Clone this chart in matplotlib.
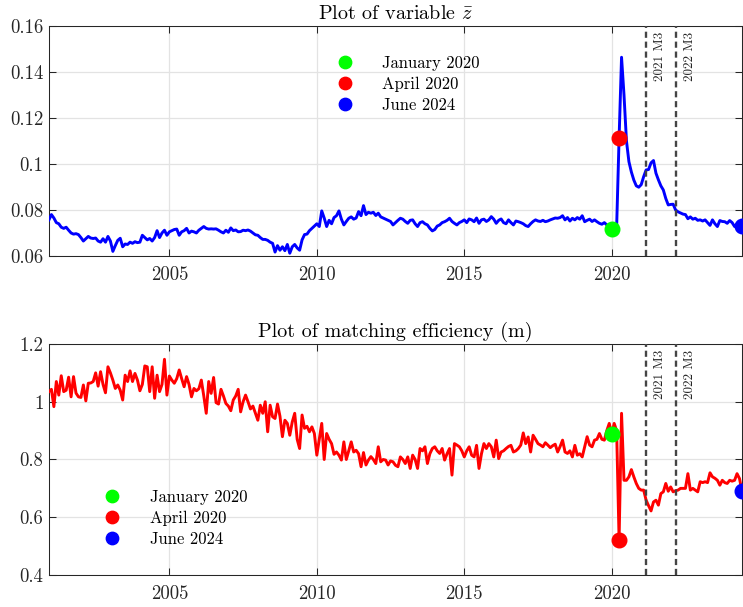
"""Two stacked time-series panels: z-bar and matching efficiency (m), monthly
Dec 2000 - Jun 2024, with the Jan 2020 / Apr 2020 / Jun 2024 points marked.
Writes out.png
"""
import matplotlib.pyplot as plt
import numpy as np
from matplotlib.ticker import FuncFormatter

plt.rcParams["font.family"] = ["cmr10", "DejaVu Serif"]
plt.rcParams["mathtext.fontset"] = "cm"
plt.rcParams["axes.formatter.use_mathtext"] = True


# first observation (year, month); one value per month after that
START = (2000, 12)

Z_BAR = [
    0.0757,
    0.0780, 0.0765, 0.0745, 0.0740, 0.0725, 0.0720, 0.0725, 0.0712, 0.0700, 0.0695, 0.0697, 0.0693,
    0.0680, 0.0665, 0.0675, 0.0685, 0.0678, 0.0676, 0.0678, 0.0665, 0.0660, 0.0675, 0.0660, 0.0685,
    0.0665, 0.0620, 0.0645, 0.0668, 0.0677, 0.0640, 0.0652, 0.0650, 0.0660, 0.0655, 0.0662, 0.0658,
    0.0660, 0.0690, 0.0680, 0.0670, 0.0676, 0.0665, 0.0680, 0.0710, 0.0680, 0.0700, 0.0712, 0.0690,
    0.0705, 0.0710, 0.0715, 0.0717, 0.0690, 0.0705, 0.0710, 0.0720, 0.0700, 0.0708, 0.0705, 0.0700,
    0.0712, 0.0720, 0.0728, 0.0720, 0.0717, 0.0718, 0.0717, 0.0718, 0.0712, 0.0705, 0.0700, 0.0712,
    0.0703, 0.0722, 0.0710, 0.0713, 0.0705, 0.0706, 0.0712, 0.0710, 0.0713, 0.0708, 0.0700, 0.0692,
    0.0690, 0.0680, 0.0672, 0.0672, 0.0668, 0.0660, 0.0655, 0.0617, 0.0645, 0.0625, 0.0640, 0.0623,
    0.0650, 0.0612, 0.0640, 0.0650, 0.0635, 0.0625, 0.0670, 0.0693, 0.0695, 0.0710, 0.0720, 0.0730,
    0.0740, 0.0728, 0.0796, 0.0765, 0.0728, 0.0755, 0.0740, 0.0767, 0.0775, 0.0796, 0.0760, 0.0735,
    0.0750, 0.0764, 0.0770, 0.0760, 0.0765, 0.0793, 0.0775, 0.0819, 0.0780, 0.0790, 0.0786, 0.0790,
    0.0776, 0.0786, 0.0770, 0.0765, 0.0760, 0.0755, 0.0750, 0.0735, 0.0745, 0.0755, 0.0764, 0.0760,
    0.0750, 0.0742, 0.0755, 0.0757, 0.0740, 0.0728, 0.0745, 0.0749, 0.0740, 0.0735, 0.0720, 0.0709,
    0.0715, 0.0730, 0.0735, 0.0745, 0.0749, 0.0755, 0.0764, 0.0750, 0.0742, 0.0735, 0.0745, 0.0750,
    0.0757, 0.0745, 0.0761, 0.0757, 0.0749, 0.0765, 0.0742, 0.0757, 0.0760, 0.0750, 0.0757, 0.0771,
    0.0760, 0.0742, 0.0755, 0.0761, 0.0745, 0.0740, 0.0757, 0.0745, 0.0735, 0.0752, 0.0749, 0.0745,
    0.0740, 0.0732, 0.0728, 0.0740, 0.0750, 0.0757, 0.0752, 0.0750, 0.0755, 0.0749, 0.0752, 0.0757,
    0.0761, 0.0765, 0.0764, 0.0767, 0.0775, 0.0757, 0.0767, 0.0752, 0.0764, 0.0757, 0.0767, 0.0760,
    0.0775, 0.0749, 0.0755, 0.0760, 0.0750, 0.0757, 0.0749, 0.0742, 0.0738, 0.0745, 0.0735, 0.0728,
    0.0719, 0.0722, 0.0725, 0.1112, 0.1464, 0.1300, 0.1100, 0.1010, 0.0965, 0.0930, 0.0905, 0.0899,
    0.0910, 0.0945, 0.0974, 0.0976, 0.1005, 0.1015, 0.0960, 0.0931, 0.0905, 0.0887, 0.0850, 0.0822,
    0.0824, 0.0825, 0.0800, 0.0792, 0.0787, 0.0782, 0.0780, 0.0762, 0.0770, 0.0760, 0.0764, 0.0755,
    0.0757, 0.0752, 0.0757, 0.0745, 0.0733, 0.0757, 0.0740, 0.0728, 0.0754, 0.0750, 0.0749, 0.0742,
    0.0754, 0.0745, 0.0728, 0.0740, 0.0745, 0.0730,
]

M_EFF = [
    1.035,
    1.043, 0.983, 1.070, 1.023, 1.090, 1.035, 1.040, 1.085, 1.017, 1.087, 1.030, 1.017,
    1.015, 1.058, 1.003, 1.064, 1.065, 1.070, 1.100, 1.054, 1.104, 1.060, 1.031, 1.121,
    1.100, 1.075, 1.046, 1.058, 1.040, 1.006, 1.092, 1.070, 1.107, 1.070, 1.098, 1.075,
    1.038, 1.060, 1.124, 1.121, 1.035, 1.121, 1.012, 1.092, 1.035, 1.060, 1.147, 1.023,
    1.089, 1.075, 1.064, 1.080, 1.110, 1.080, 1.052, 1.087, 1.060, 1.017, 1.046, 1.038,
    1.045, 1.075, 1.020, 0.960, 1.070, 1.029, 1.084, 0.997, 0.992, 1.043, 1.020, 0.994,
    0.985, 0.969, 1.006, 1.020, 1.043, 0.965, 1.000, 1.023, 1.000, 0.975, 0.985, 0.960,
    0.936, 0.988, 0.960, 1.000, 0.896, 0.988, 0.948, 0.942, 0.992, 0.950, 0.879, 0.936,
    0.925, 0.884, 0.930, 0.960, 0.870, 0.838, 0.954, 0.908, 0.915, 0.896, 0.913, 0.890,
    0.815, 0.870, 0.925, 0.800, 0.890, 0.870, 0.855, 0.818, 0.826, 0.815, 0.798, 0.861,
    0.800, 0.830, 0.861, 0.826, 0.832, 0.820, 0.775, 0.824, 0.781, 0.798, 0.810, 0.800,
    0.786, 0.844, 0.792, 0.800, 0.798, 0.781, 0.795, 0.792, 0.780, 0.775, 0.809, 0.800,
    0.786, 0.809, 0.769, 0.815, 0.800, 0.769, 0.838, 0.830, 0.844, 0.786, 0.820, 0.838,
    0.844, 0.830, 0.821, 0.838, 0.798, 0.820, 0.838, 0.746, 0.855, 0.850, 0.844, 0.830,
    0.809, 0.830, 0.844, 0.815, 0.809, 0.849, 0.769, 0.820, 0.855, 0.838, 0.855, 0.844,
    0.809, 0.867, 0.803, 0.826, 0.830, 0.838, 0.845, 0.849, 0.826, 0.830, 0.838, 0.850,
    0.892, 0.855, 0.878, 0.826, 0.884, 0.870, 0.855, 0.850, 0.844, 0.858, 0.850, 0.841,
    0.848, 0.853, 0.826, 0.845, 0.867, 0.826, 0.821, 0.830, 0.809, 0.849, 0.815, 0.820,
    0.809, 0.844, 0.879, 0.850, 0.844, 0.867, 0.870, 0.890, 0.870, 0.867, 0.900, 0.925,
    0.888, 0.925, 0.900, 0.5225, 0.960, 0.728, 0.728, 0.740, 0.765, 0.740, 0.717, 0.700,
    0.694, 0.694, 0.659, 0.640, 0.622, 0.653, 0.659, 0.642, 0.682, 0.688, 0.717, 0.690,
    0.705, 0.688, 0.692, 0.694, 0.700, 0.700, 0.700, 0.751, 0.694, 0.700, 0.694, 0.688,
    0.723, 0.720, 0.723, 0.720, 0.754, 0.740, 0.735, 0.728, 0.711, 0.728, 0.720, 0.717,
    0.728, 0.725, 0.728, 0.751, 0.734, 0.691,
]

EVENT_DATES = [(2020, 1), (2020, 4), (2024, 6)]
EVENT_LABELS = ["January 2020", "April 2020", "June 2024"]
VLINE_DATES = [(2021, 3), (2022, 3)]
VLINE_LABELS = ["2021 M3", "2022 M3"]

EVENT_COLORS = ["#00ff00", "#ff0000", "#0000ff"]
TEXT_COLOR = "#262626"


def dec_year(year, month):
    return year + (month - 1) / 12


def month_index(year, month):
    return (year - START[0]) * 12 + (month - START[1])


def draw_panel(ax, values, color, title, yticks, legend_anchor):
    t = dec_year(*START) + np.arange(len(values)) / 12
    values = np.asarray(values)
    ax.plot(t, values, color=color, lw=2.1, zorder=3)

    for d, lbl in zip(VLINE_DATES, VLINE_LABELS):
        x = dec_year(*d)
        ax.axvline(x, color="#444444", lw=1.7, ls=(0, (2.6, 1.6)), zorder=4)
        ax.text(x + 0.27, 0.975, lbl, transform=ax.get_xaxis_transform(),
                rotation=90, ha="left", va="top", fontsize=9.5, color=TEXT_COLOR)

    handles = []
    for d, lbl, c in zip(EVENT_DATES, EVENT_LABELS, EVENT_COLORS):
        i = month_index(*d)
        h, = ax.plot(t[i], values[i], "o", color=c, ms=10.5, mec=c,
                     label=lbl, zorder=5)
        handles.append(h)

    ax.legend(handles=handles, loc="upper left", bbox_to_anchor=legend_anchor,
              frameon=False, fontsize=12, handlelength=2.0, handletextpad=1.25,
              labelspacing=0.33, borderpad=0, borderaxespad=0, markerscale=0.85)

    ax.set_xlim(t[0], t[-1])
    ax.set_ylim(yticks[0], yticks[-1])
    ax.set_xticks([2005, 2010, 2015, 2020])
    ax.set_yticks(yticks)
    ax.xaxis.set_major_formatter(FuncFormatter(lambda v, _: f"{v:.0f}"))
    ax.yaxis.set_major_formatter(FuncFormatter(lambda v, _: f"{v:g}"))
    ax.tick_params(direction="in", top=True, right=True, length=5, width=0.75,
                   colors=TEXT_COLOR, labelsize=13.5)
    ax.tick_params(axis="x", pad=7)
    ax.tick_params(axis="y", pad=4)
    ax.grid(True, color="#e3e3e3", lw=0.9)
    ax.set_axisbelow(True)
    for sp in ax.spines.values():
        sp.set_color(TEXT_COLOR)
        sp.set_linewidth(0.75)
    ax.set_title(title, fontsize=14.5, pad=5, color="black")


fig = plt.figure(figsize=(7.43, 6.07), dpi=100)
ax_top = fig.add_axes([0.0659, 0.5783, 0.9327, 0.3789])
ax_bot = fig.add_axes([0.0659, 0.0527, 0.9327, 0.3806])

draw_panel(ax_top, Z_BAR, "#0000ff", r"Plot of variable $\bar{z}$",
           [0.06, 0.08, 0.1, 0.12, 0.14, 0.16], (0.403, 0.870))
draw_panel(ax_bot, M_EFF, "#ff0000", "Plot of matching efficiency (m)",
           [0.4, 0.6, 0.8, 1.0, 1.2], (0.067, 0.368))

fig.savefig("out.png", dpi=100)
